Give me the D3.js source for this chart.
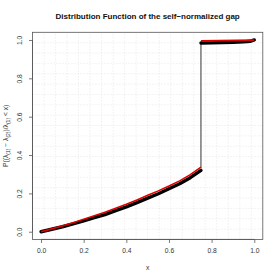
<!DOCTYPE html>
<html>
<head>
<meta charset="utf-8">
<script src="https://cdn.jsdelivr.net/npm/d3@7"></script>
<style>
	body { margin: 0; background: #fff; }
	svg { display: block; font-family: "Liberation Sans", Arial, sans-serif; }
</style>
</head>
<body>
<svg id="chart" width="280" height="280"></svg>
<script>
// empirical distribution (black), below the jump
const empX = [0, 0.05, 0.1, 0.15, 0.2, 0.25, 0.3, 0.35, 0.4, 0.45, 0.5, 0.55, 0.6, 0.65, 0.7, 0.75];
const empY = [0, 0.013, 0.026, 0.041, 0.057, 0.073, 0.089, 0.11, 0.13, 0.152, 0.175, 0.198, 0.224, 0.25, 0.282, 0.32];
// empirical distribution after the jump
const empUpX = [0.75, 0.8, 0.85, 0.9, 0.95, 0.98, 1.0];
const empUpY = [0.984, 0.985, 0.986, 0.988, 0.99, 0.993, 1.0];
// theoretical curve (red)
const theoX = [0, 0.05, 0.1, 0.15, 0.2, 0.25, 0.3, 0.35, 0.4, 0.45, 0.5, 0.55, 0.6, 0.65, 0.7, 0.75];
const theoY = [0, 0.015, 0.03, 0.047, 0.065, 0.083, 0.102, 0.122, 0.143, 0.166, 0.19, 0.213, 0.238, 0.265, 0.298, 0.337];
const theoUpX = [0.75, 1.0];
const theoUpY = [0.996, 0.999];

const ticks = [0, 0.2, 0.4, 0.6, 0.8, 1.0];
const title = "Distribution Function of the self\u2212normalized gap";

const svg = d3.select("#chart");

const x = d3.scaleLinear().domain([-0.04, 1.04]).range([32.5, 262.8]);
const y = d3.scaleLinear().domain([-0.04, 1.04]).range([239.4, 32.3]);

// grid, 20 equal divisions of the plot region
const gridX = d3.range(1, 20).map((i) => -0.04 + (i * 1.08) / 20);
const g_grid = svg.append("g");
g_grid.selectAll(".gv")
	.data(gridX)
	.join("line")
	.attr("x1", (d) => x(d)).attr("x2", (d) => x(d))
	.attr("y1", y(-0.04)).attr("y2", y(1.04))
	.attr("stroke", "#d8d8d8")
	.attr("stroke-width", 0.6)
	.attr("stroke-dasharray", "1,2");
g_grid.selectAll(".gh")
	.data(gridX)
	.join("line")
	.attr("y1", (d) => y(d)).attr("y2", (d) => y(d))
	.attr("x1", x(-0.04)).attr("x2", x(1.04))
	.attr("stroke", "#d8d8d8")
	.attr("stroke-width", 0.6)
	.attr("stroke-dasharray", "1,2");

// box
svg.append("rect")
	.attr("x", x(-0.04)).attr("y", y(1.04))
	.attr("width", x(1.04) - x(-0.04))
	.attr("height", y(-0.04) - y(1.04))
	.attr("fill", "none")
	.attr("stroke", "#555")
	.attr("stroke-width", 0.8);

// axes
const xAxis = d3.axisBottom(x).tickValues(ticks).tickFormat(d3.format(".1f")).tickSize(3.5).tickPadding(5);
const gx = svg.append("g").attr("transform", `translate(0,${y(-0.04)})`).call(xAxis);
gx.select(".domain").attr("d", `M${x(0)},0H${x(1)}`).attr("stroke", "#555").attr("stroke-width", 0.8);
gx.selectAll(".tick line").attr("stroke", "#555").attr("stroke-width", 0.8);
gx.selectAll(".tick text").attr("font-size", 6.7).attr("fill", "#333").attr("font-family", "Liberation Sans, Arial, sans-serif");

const yAxis = d3.axisLeft(y).tickValues(ticks).tickFormat(d3.format(".1f")).tickSize(3.5).tickPadding(5);
const gy = svg.append("g").attr("transform", `translate(${x(-0.04)},0)`).call(yAxis);
gy.select(".domain").attr("d", `M0,${y(0)}V${y(1)}`).attr("stroke", "#555").attr("stroke-width", 0.8);
gy.selectAll(".tick line").attr("stroke", "#555").attr("stroke-width", 0.8);
gy.selectAll(".tick text")
	.attr("font-size", 6.7).attr("fill", "#333").attr("font-family", "Liberation Sans, Arial, sans-serif")
	.attr("x", null).attr("dy", null)
	.attr("text-anchor", "middle")
	.attr("transform", "translate(-11,0) rotate(-90)");

// curves
const line = d3.line().x((d) => x(d[0])).y((d) => y(d[1]));
const zip = (a, b) => a.map((v, i) => [v, b[i]]);

svg.append("line")
	.attr("x1", x(empX[empX.length - 1])).attr("x2", x(empUpX[0]))
	.attr("y1", y(empY[empY.length - 1] + 0.012)).attr("y2", y(empUpY[0]))
	.attr("stroke", "#333")
	.attr("stroke-width", 1);

[zip(empX, empY), zip(empUpX, empUpY)].forEach((pts) => {
	svg.append("path")
		.attr("d", line(pts))
		.attr("fill", "none")
		.attr("stroke", "#000")
		.attr("stroke-width", 3.4)
		.attr("stroke-linecap", "round")
		.attr("stroke-linejoin", "round");
});
[zip(theoX, theoY), zip(theoUpX, theoUpY)].forEach((pts) => {
	svg.append("path")
		.attr("d", line(pts))
		.attr("fill", "none")
		.attr("stroke", "#e00000")
		.attr("stroke-width", 1.6);
});

// title and labels
svg.append("text")
	.attr("x", (x(-0.04) + x(1.04)) / 2).attr("y", 19)
	.attr("text-anchor", "middle")
	.attr("font-size", 8).attr("font-weight", "bold")
	.attr("fill", "#111")
	.text(title);

svg.append("text")
	.attr("x", (x(-0.04) + x(1.04)) / 2).attr("y", 270)
	.attr("text-anchor", "middle")
	.attr("font-size", 6.7).attr("fill", "#333")
	.text("x");

const ylab = svg.append("text")
	.attr("transform", `translate(8,${(y(-0.04) + y(1.04)) / 2}) rotate(-90)`)
	.attr("text-anchor", "middle")
	.attr("font-size", 6.7).attr("fill", "#333");
ylab.append("tspan").text("P((\u03bb");
ylab.append("tspan").attr("font-size", 5).attr("dy", 1.5).text("(1)");
ylab.append("tspan").attr("dy", -1.5).text(" \u2212 \u03bb");
ylab.append("tspan").attr("font-size", 5).attr("dy", 1.5).text("(2)");
ylab.append("tspan").attr("dy", -1.5).text(")/\u03bb");
ylab.append("tspan").attr("font-size", 5).attr("dy", 1.5).text("(1)");
ylab.append("tspan").attr("dy", -1.5).text(" < x)");
</script>
</body>
</html>
